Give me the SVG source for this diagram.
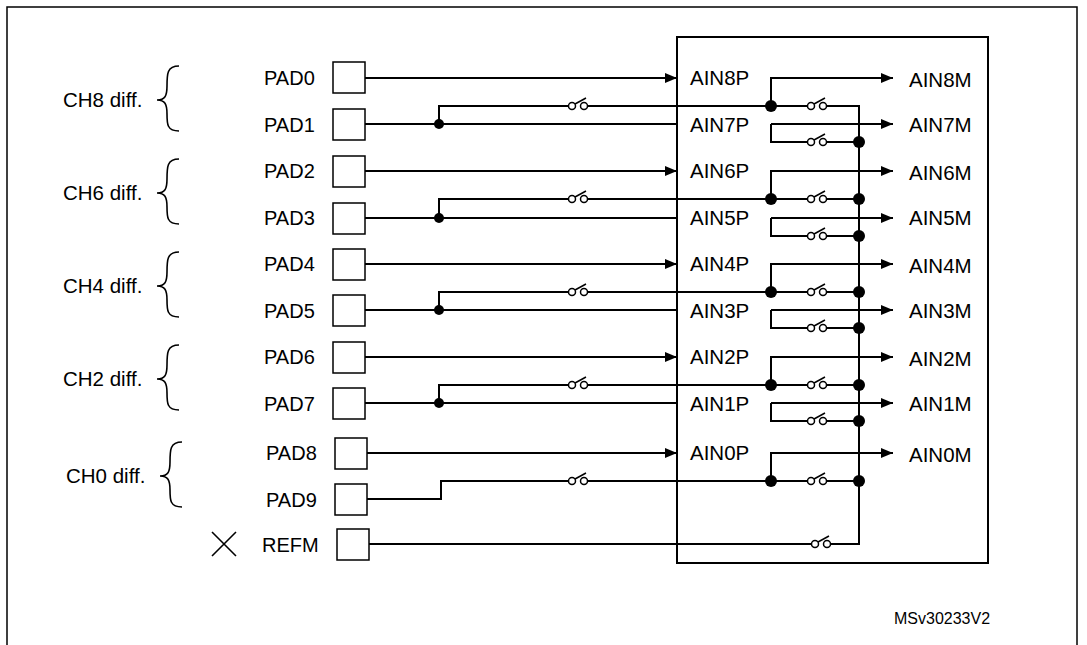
<svg xmlns="http://www.w3.org/2000/svg" width="1087" height="645" viewBox="0 0 1087 645">
<defs>
<style>
.w{fill:none;stroke:#000;stroke-width:2}
.b{fill:none;stroke:#000;stroke-width:1.6}
.t{font-family:"Liberation Sans",Arial,sans-serif;font-size:20.5px;fill:#000}
.p{font-family:"Liberation Sans",Arial,sans-serif;font-size:20px;fill:#000}
.pad{fill:#fff;stroke:#000;stroke-width:1.5}
.d{fill:#000}
</style>
<marker id="a" markerWidth="12" markerHeight="10" refX="12" refY="5" orient="auto" markerUnits="userSpaceOnUse"><path d="M0,0L12,5L0,10z"/></marker>
<g id="sw"><circle cx="-6" cy="0" r="3.5" fill="#fff" stroke="#000" stroke-width="1.5"/><circle cx="6" cy="0" r="3.5" fill="#fff" stroke="#000" stroke-width="1.5"/><path d="M-3,-2L8,-8" stroke="#000" stroke-width="1.5"/></g>
<path id="br" d="M22,-34C10,-34 10,-26 10,-14C10,-4 8,0 0,0C8,0 10,4 10,14C10,24 10,31 22,31"/>
</defs>
<rect x="0" y="0" width="1087" height="645" fill="#fff"/>
<rect x="7" y="7" width="1070" height="650" fill="none" stroke="#000" stroke-width="1.5"/>
<g id="block"><rect x="677" y="37" width="311" height="526" fill="none" stroke="#000" stroke-width="2"/></g>
<g id="connectors">
<path class="w" d="M365,78H677" marker-end="url(#a)"/>
<path class="w" d="M365,171H677" marker-end="url(#a)"/>
<path class="w" d="M365,264H677" marker-end="url(#a)"/>
<path class="w" d="M365,357H677" marker-end="url(#a)"/>
<path class="w" d="M367,453H677" marker-end="url(#a)"/>
<path class="w" d="M365,124H677M439,124V106H572M584,106H771"/>
<path class="w" d="M365,218H677M439,218V199H572M584,199H771"/>
<path class="w" d="M365,310H677M439,310V292H572M584,292H771"/>
<path class="w" d="M365,403H677M439,403V385H572M584,385H771"/>
<path class="w" d="M367,499H441V481H572M584,481H771"/>
<path class="w" d="M369,544H815M827,544H859V106H823M811,106H771"/>
<path class="w" d="M771,106V78H893" marker-end="url(#a)"/>
<path class="w" d="M771,199V171H893" marker-end="url(#a)"/>
<path class="w" d="M771,292V264H893" marker-end="url(#a)"/>
<path class="w" d="M771,385V357H893" marker-end="url(#a)"/>
<path class="w" d="M771,481V453H893" marker-end="url(#a)"/>
<path class="w" d="M771,124H893" marker-end="url(#a)"/>
<path class="w" d="M771,218H893" marker-end="url(#a)"/>
<path class="w" d="M771,310H893" marker-end="url(#a)"/>
<path class="w" d="M771,403H893" marker-end="url(#a)"/>
<path class="w" d="M771,124V142H811M823,142H859M771,218V236H811M823,236H859M771,310V328H811M823,328H859M771,403V421H811M823,421H859"/>
<path class="w" d="M771,199H811M823,199H859M771,292H811M823,292H859M771,385H811M823,385H859M771,481H811M823,481H859"/>
<g class="d">
<circle cx="439" cy="124" r="5"/><circle cx="439" cy="218" r="5"/><circle cx="439" cy="310" r="5"/><circle cx="439" cy="403" r="5"/>
<circle cx="771" cy="106" r="6"/><circle cx="771" cy="199" r="6"/><circle cx="771" cy="292" r="6"/><circle cx="771" cy="385" r="6"/><circle cx="771" cy="481" r="6"/>
<circle cx="859" cy="142" r="6"/><circle cx="859" cy="199" r="6"/><circle cx="859" cy="236" r="6"/><circle cx="859" cy="292" r="6"/><circle cx="859" cy="328" r="6"/><circle cx="859" cy="385" r="6"/><circle cx="859" cy="421" r="6"/><circle cx="859" cy="481" r="6"/>
</g>
<use href="#sw" x="578" y="106"/><use href="#sw" x="578" y="199"/><use href="#sw" x="578" y="292"/><use href="#sw" x="578" y="385"/><use href="#sw" x="578" y="481"/>
<use href="#sw" x="817" y="106"/><use href="#sw" x="817" y="142"/><use href="#sw" x="817" y="199"/><use href="#sw" x="817" y="236"/><use href="#sw" x="817" y="292"/><use href="#sw" x="817" y="328"/><use href="#sw" x="817" y="385"/><use href="#sw" x="817" y="421"/><use href="#sw" x="817" y="481"/><use href="#sw" x="821" y="544"/>
</g>
<g id="pads">
<g id="pad0"><rect class="pad" x="333" y="62" width="32" height="31"/><text class="p" x="264" y="85">PAD0</text></g>
<g id="pad1"><rect class="pad" x="333" y="109" width="32" height="31"/><text class="p" x="264" y="132">PAD1</text></g>
<g id="pad2"><rect class="pad" x="333" y="156" width="32" height="31"/><text class="p" x="264" y="178">PAD2</text></g>
<g id="pad3"><rect class="pad" x="333" y="203" width="32" height="31"/><text class="p" x="264" y="225">PAD3</text></g>
<g id="pad4"><rect class="pad" x="333" y="249" width="32" height="31"/><text class="p" x="264" y="271">PAD4</text></g>
<g id="pad5"><rect class="pad" x="333" y="295" width="32" height="31"/><text class="p" x="264" y="318">PAD5</text></g>
<g id="pad6"><rect class="pad" x="333" y="342" width="32" height="31"/><text class="p" x="264" y="364">PAD6</text></g>
<g id="pad7"><rect class="pad" x="333" y="388" width="32" height="31"/><text class="p" x="264" y="411">PAD7</text></g>
<g id="pad8"><rect class="pad" x="335" y="438" width="32" height="31"/><text class="p" x="266" y="460">PAD8</text></g>
<g id="pad9"><rect class="pad" x="335" y="484" width="32" height="31"/><text class="p" x="266" y="507">PAD9</text></g>
<g id="refm"><rect class="pad" x="337" y="529" width="32" height="31"/><text class="p" x="262" y="552">REFM</text><path d="M212,532L236,556M236,532L212,556" stroke="#000" stroke-width="1.6"/></g>
</g>
<g id="labels" class="t">
<text x="690" y="85">AIN8P</text><text x="690" y="132">AIN7P</text><text x="690" y="178">AIN6P</text><text x="690" y="225">AIN5P</text><text x="690" y="271">AIN4P</text><text x="690" y="318">AIN3P</text><text x="690" y="364">AIN2P</text><text x="690" y="411">AIN1P</text><text x="690" y="460">AIN0P</text>
<text x="909" y="87">AIN8M</text><text x="909" y="132">AIN7M</text><text x="909" y="180">AIN6M</text><text x="909" y="225">AIN5M</text><text x="909" y="273">AIN4M</text><text x="909" y="318">AIN3M</text><text x="909" y="366">AIN2M</text><text x="909" y="411">AIN1M</text><text x="909" y="462">AIN0M</text>
<text x="894" y="624" style="font-size:16px">MSv30233V2</text>
</g>
<g id="groups" class="t">
<text x="63" y="107">CH8 diff.</text><text x="63" y="200">CH6 diff.</text><text x="63" y="293">CH4 diff.</text><text x="63" y="386">CH2 diff.</text><text x="66" y="483">CH0 diff.</text>
<use href="#br" class="b" x="157" y="100"/>
<use href="#br" class="b" x="157" y="193"/>
<use href="#br" class="b" x="157" y="286"/>
<use href="#br" class="b" x="157" y="379"/>
<use href="#br" class="b" x="160" y="476"/>
</g>
</svg>
